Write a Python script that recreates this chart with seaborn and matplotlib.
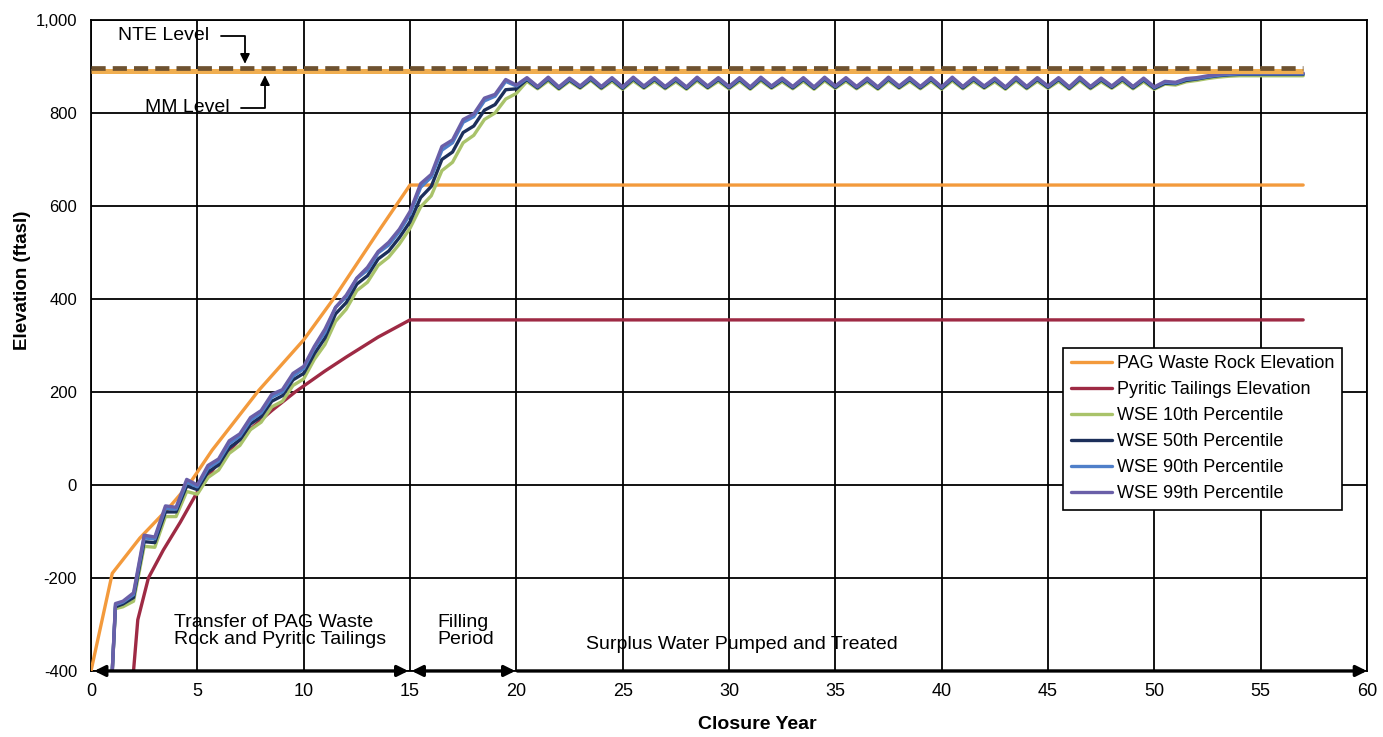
import numpy as np
import pandas as pd
import matplotlib
matplotlib.use("Agg")
import matplotlib.pyplot as plt
import seaborn as sns

# ---- data ---------------------------------------------------------------
PAG_YEARS = [0.0, 1.0, 2.3, 3.7, 4.65, 5.7, 7.9, 10.0, 11.4, 13.6, 15.0, 57.0]
PAG_ELEV = [-400, -190, -114, -47, 4, 75, 204, 312, 400, 551, 645, 645]

PYR_YEARS = [2.0, 2.2, 2.7, 3.4, 4.2, 5.0, 6.0, 7.3, 8.5, 9.6, 11.0, 12.0, 13.5, 15.0, 57.0]
PYR_ELEV = [-400, -290, -200, -140, -80, -15, 50, 112, 160, 200, 245, 275, 318, 355, 355]

# water surface elevation, sampled every half year from year 1.5
WSE_YEARS = [1.0, 1.15] + [1.5 + 0.5 * i for i in range(112)]

WSE_P10 = [
    -400, -266, -262, -250, -132, -134, -68, -68, -14, -20,
    16, 32, 68, 85, 119, 135, 168, 180, 214, 228,
    270, 302, 352, 378, 418, 436, 472, 490, 518, 552,
    598, 622, 676, 694, 736, 752, 786, 800, 830, 842,
    868, 852, 869, 851, 868, 853, 870, 852, 868, 851,
    869, 853, 868, 852, 867, 851, 869, 853, 868, 852,
    868, 851, 869, 853, 867, 852, 868, 851, 869, 853,
    868, 852, 867, 851, 869, 853, 868, 852, 868, 851,
    869, 852, 868, 853, 867, 851, 869, 852, 868, 853,
    868, 851, 869, 852, 867, 853, 868, 852, 867, 851,
    862, 860, 867, 870, 874, 877, 879, 880, 880, 880,
    880, 880, 880, 880,
]

WSE_P50 = [
    -400, -262, -256, -242, -122, -124, -58, -58, -2, -10,
    28, 43, 80, 97, 131, 147, 180, 192, 226, 240,
    282, 316, 368, 392, 432, 450, 486, 503, 532, 566,
    618, 642, 700, 716, 758, 772, 806, 818, 850, 852,
    872, 854, 873, 853, 871, 855, 873, 854, 872, 853,
    873, 855, 872, 854, 871, 853, 873, 855, 872, 854,
    872, 853, 873, 855, 871, 854, 872, 853, 873, 855,
    872, 854, 871, 853, 873, 855, 872, 854, 872, 853,
    873, 854, 872, 855, 871, 853, 873, 854, 872, 855,
    872, 853, 873, 854, 871, 855, 872, 854, 871, 853,
    864, 863, 870, 873, 877, 880, 882, 883, 883, 883,
    883, 883, 883, 883,
]

WSE_P90 = [
    -400, -258, -252, -236, -114, -116, -50, -52, 6, -4,
    36, 51, 89, 105, 139, 155, 189, 200, 234, 250,
    294, 328, 382, 404, 444, 462, 499, 516, 545, 582,
    640, 662, 720, 736, 780, 792, 826, 836, 868, 858,
    874, 856, 875, 855, 873, 857, 875, 856, 874, 855,
    875, 857, 874, 856, 873, 855, 875, 857, 874, 856,
    874, 855, 875, 857, 873, 856, 874, 855, 875, 857,
    874, 856, 873, 855, 875, 857, 874, 856, 874, 855,
    875, 856, 874, 857, 873, 855, 875, 856, 874, 857,
    874, 855, 875, 856, 873, 857, 874, 856, 873, 855,
    866, 864, 872, 874, 878, 881, 883, 884, 884, 884,
    884, 884, 884, 884,
]

WSE_P99 = [
    -400, -255, -250, -232, -108, -112, -45, -48, 12, 0,
    42, 56, 95, 110, 145, 160, 195, 205, 240, 255,
    298, 335, 382, 408, 445, 468, 502, 522, 550, 588,
    648, 668, 728, 742, 786, 798, 832, 840, 872, 860,
    876, 857, 877, 856, 875, 858, 877, 857, 876, 856,
    877, 858, 876, 857, 875, 856, 877, 858, 876, 857,
    876, 856, 877, 858, 875, 857, 876, 856, 877, 858,
    876, 857, 875, 856, 877, 858, 876, 857, 876, 856,
    877, 857, 876, 858, 875, 856, 877, 857, 876, 858,
    876, 856, 877, 857, 875, 858, 876, 857, 875, 856,
    868, 866, 874, 876, 880, 883, 885, 886, 886, 886,
    886, 886, 886, 886,
]

NTE_LEVEL = 896
MM_LEVEL = 891
LEVEL_END = 57.0

SERIES = [
    ("PAG Waste Rock Elevation", PAG_YEARS, PAG_ELEV, "#F39A3C"),
    ("Pyritic Tailings Elevation", PYR_YEARS, PYR_ELEV, "#9E2A44"),
    ("WSE 10th Percentile", WSE_YEARS, WSE_P10, "#A9C36A"),
    ("WSE 50th Percentile", WSE_YEARS, WSE_P50, "#1C2F5A"),
    ("WSE 90th Percentile", WSE_YEARS, WSE_P90, "#4F7FC9"),
    ("WSE 99th Percentile", WSE_YEARS, WSE_P99, "#6A5FA8"),
]

X_TICKS = list(range(0, 61, 5))
Y_TICKS = list(range(-400, 1001, 200))

# ---- figure -------------------------------------------------------------
sns.set_theme(style="white")
plt.rcParams["font.family"] = ["Liberation Sans", "DejaVu Sans"]
plt.rcParams.update({"text.color": "black", "axes.labelcolor": "black",
                     "xtick.color": "black", "ytick.color": "black"})

fig = plt.figure(figsize=(13.83, 7.37), dpi=100)
ax = fig.add_axes([0.0658, 0.0896, 0.9226, 0.8833])

frames = [pd.DataFrame({"year": xs, "elev": ys, "series": name})
          for name, xs, ys, _ in SERIES]
df = pd.concat(frames, ignore_index=True)
palette = {name: c for name, _, _, c in SERIES}
order = [name for name, _, _, _ in SERIES]

sns.lineplot(data=df, x="year", y="elev", hue="series", hue_order=order,
             palette=palette, estimator=None, sort=False, linewidth=2.4,
             ax=ax, zorder=3)

# regulatory levels
ax.plot([0, LEVEL_END], [MM_LEVEL, MM_LEVEL], color="#F0AE50", lw=3.6,
        zorder=4, solid_capstyle="butt")
ax.plot([0, LEVEL_END], [NTE_LEVEL, NTE_LEVEL], color="#6E5230", lw=3.4,
        dashes=(3.0, 1.5), zorder=5)

ax.set_xlim(0, 60)
ax.set_ylim(-400, 1000)
ax.set_xticks(X_TICKS)
ax.set_yticks(Y_TICKS)
ax.set_yticklabels([f"{v:,}" for v in Y_TICKS])
ax.grid(True, color="black", linewidth=1.3)
ax.set_axisbelow(True)
for sp in ax.spines.values():
    sp.set_color("black")
    sp.set_linewidth(1.3)
ax.tick_params(axis="x", direction="inout", length=10, width=1.3,
               labelsize=13, pad=4)
ax.tick_params(axis="y", direction="out", length=6, width=1.3,
               labelsize=12, pad=4)
ax.set_xlabel("Closure Year", fontsize=14, fontweight="bold")
ax.set_ylabel("Elevation (ftasl)", fontsize=13.5, fontweight="bold")
ax.xaxis.set_label_coords(0.522, -0.069)
ax.yaxis.set_label_coords(-0.047, 0.60)

# legend
handles, labels = ax.get_legend_handles_labels()
ax.legend(handles, labels, loc="upper left", bbox_to_anchor=(0.762, 0.496),
          borderaxespad=0, frameon=True, fancybox=False, edgecolor="black",
          fontsize=13, handlelength=2.3, handletextpad=0.3, labelspacing=0.5,
          borderpad=0.4, framealpha=1)
ax.get_legend().get_frame().set_linewidth(1.2)

# level call-outs
arrow_kw = dict(arrowstyle="-|>", color="black", lw=1.3,
                connectionstyle="angle,angleA=0,angleB=90,rad=0",
                relpos=(1.0, 0.5), shrinkA=6, shrinkB=0, mutation_scale=14)
ax.annotate("NTE Level", xy=(7.24, NTE_LEVEL + 10), xytext=(5.55, 966),
            ha="right", va="center", fontsize=14, arrowprops=arrow_kw,
            zorder=6)
ax.annotate("MM Level", xy=(8.18, MM_LEVEL - 10), xytext=(6.5, 811),
            ha="right", va="center", fontsize=14, arrowprops=arrow_kw,
            zorder=6)

# closure phases along the bottom axis
phase_kw = dict(color="black", lw=2.4, shrinkA=0, shrinkB=0, mutation_scale=16)
for x0, x1, style in [(0.15, 14.92, "<|-|>"), (15.08, 19.95, "<|-|>"),
                      (20.05, 60.0, "-|>")]:
    ax.annotate("", xy=(x1, -400), xytext=(x0, -400),
                arrowprops=dict(arrowstyle=style, **phase_kw),
                annotation_clip=False, zorder=7)

ax.text(3.9, -314, "Transfer of PAG Waste\nRock and Pyritic Tailings",
        ha="left", va="center", fontsize=14, linespacing=1.0)
ax.text(16.3, -314, "Filling\nPeriod", ha="left", va="center",
        fontsize=14, linespacing=1.0)
ax.text(23.3, -344, "Surplus Water Pumped and Treated", ha="left",
        va="center", fontsize=14)

fig.savefig("out.png", dpi=100)
